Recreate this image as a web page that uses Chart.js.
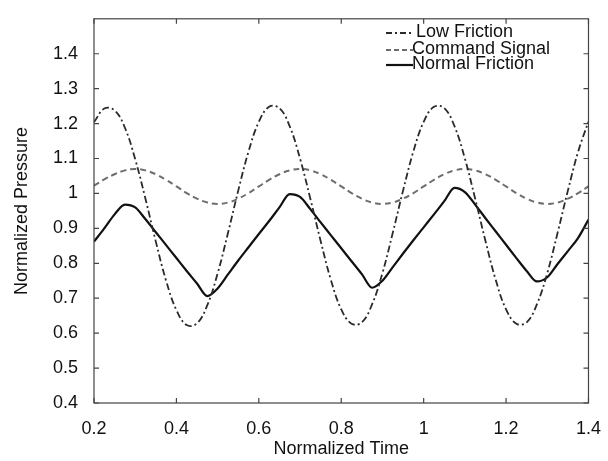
<!DOCTYPE html>
<html>
<head>
<meta charset="utf-8">
<script src="https://cdn.jsdelivr.net/npm/chart.js@4.4.1/dist/chart.umd.min.js"></script>
<style>
  html, body { margin: 0; padding: 0; background: #fff; }
  #wrap { width: 608px; height: 461px; }
</style>
</head>
<body>
<div id="wrap"><canvas id="chart"></canvas></div>
<script>
const times = [0.2,0.225,0.25,0.275,0.3,0.325,0.35,0.375,0.4,0.425,0.45,0.475,0.5,0.525,0.55,0.575,
  0.6,0.625,0.65,0.675,0.7,0.725,0.75,0.775,0.8,0.825,0.85,0.875,0.9,0.925,0.95,0.975,
  1.0,1.025,1.05,1.075,1.1,1.125,1.15,1.175,1.2,1.225,1.25,1.275,1.3,1.325,1.35,1.375,1.4];

const lowFriction = [1.204,1.243,1.238,1.188,1.098,0.984,0.862,0.750,0.666,0.623,0.628,0.680,0.771,0.886,1.008,1.120,
  1.205,1.248,1.244,1.192,1.100,0.985,0.864,0.752,0.668,0.627,0.631,0.683,0.772,0.887,1.008,1.120,
  1.205,1.248,1.244,1.192,1.100,0.985,0.864,0.752,0.668,0.627,0.631,0.683,0.772,0.887,1.008,1.120,
  1.206];

const commandSignal = [1.022,1.040,1.055,1.066,1.070,1.066,1.055,1.039,1.020,1.001,0.985,0.974,0.970,0.974,0.985,1.001,
  1.020,1.039,1.055,1.066,1.070,1.066,1.055,1.039,1.020,1.001,0.985,0.974,0.970,0.974,0.985,1.001,
  1.020,1.039,1.055,1.066,1.070,1.066,1.055,1.039,1.020,1.001,0.985,0.974,0.970,0.974,0.985,1.001,
  1.020];

const normalFriction = [0.862,0.900,0.940,0.968,0.960,0.926,0.889,0.852,0.815,0.778,0.742,0.706,0.728,0.768,0.808,0.846,
  0.884,0.921,0.960,0.998,0.990,0.955,0.917,0.880,0.843,0.806,0.769,0.730,0.750,0.789,0.828,0.866,
  0.903,0.940,0.978,1.016,1.004,0.968,0.929,0.891,0.853,0.815,0.778,0.748,0.760,0.798,0.835,0.873,
  0.925];

const seriesNames = ["Low Friction", "Command Signal", "Normal Friction"];
const xTicks = [0.2, 0.4, 0.6, 0.8, 1.0, 1.2, 1.4];
const yTicks = [0.4, 0.5, 0.6, 0.7, 0.8, 0.9, 1.0, 1.1, 1.2, 1.3, 1.4];

const FONT = "'Liberation Sans', Arial, sans-serif";
const styles = [
  { color: "#2a2a2a", width: 1.8, dash: [7, 3, 2, 3], mode: "default" },
  { color: "#6e6e6e", width: 2, dash: [6, 4], mode: "default" },
  { color: "#111111", width: 2.2, dash: [], mode: "monotone" }
];

const pts = (ys) => times.map((t, i) => ({ x: t, y: ys[i] }));
const fmt = (v) => String(Math.round(v * 10) / 10);

// frame, inward ticks and the legend inside the plot
const framePlugin = {
  id: "frame",
  afterDraw(chart) {
    const { ctx, chartArea: a, scales } = chart;
    ctx.save();
    ctx.strokeStyle = "#444";
    ctx.lineWidth = 1.2;
    ctx.setLineDash([]);
    ctx.strokeRect(a.left, a.top, a.right - a.left, a.bottom - a.top);
    ctx.beginPath();
    xTicks.forEach(v => {
      const px = scales.x.getPixelForValue(v);
      ctx.moveTo(px, a.bottom); ctx.lineTo(px, a.bottom - 5);
      ctx.moveTo(px, a.top); ctx.lineTo(px, a.top + 5);
    });
    yTicks.forEach(v => {
      const py = scales.y.getPixelForValue(v);
      ctx.moveTo(a.left, py); ctx.lineTo(a.left + 5, py);
      ctx.moveTo(a.right, py); ctx.lineTo(a.right - 5, py);
    });
    ctx.stroke();

    // legend
    const rows = [32, 49, 64];
    ctx.font = "18px " + FONT;
    ctx.textBaseline = "middle";
    ctx.fillStyle = "#111";
    seriesNames.forEach((name, i) => {
      const s = styles[i];
      ctx.beginPath();
      ctx.strokeStyle = s.color;
      ctx.lineWidth = s.width;
      ctx.setLineDash(i === 0 ? [6, 3, 2, 3] : i === 1 ? [5, 3] : []);
      ctx.moveTo(386, rows[i] + 1);
      ctx.lineTo(413, rows[i] + 1);
      ctx.stroke();
      ctx.fillText(name, i === 0 ? 416 : 412, rows[i]);
    });
    ctx.restore();
  }
};

new Chart(document.getElementById("chart"), {
  type: "line",
  data: {
    datasets: seriesNames.map((name, i) => ({
      label: name,
      data: pts([lowFriction, commandSignal, normalFriction][i]),
      borderColor: styles[i].color,
      borderWidth: styles[i].width,
      borderDash: styles[i].dash,
      pointRadius: 0,
      tension: 0.4,
      cubicInterpolationMode: styles[i].mode,
      fill: false
    }))
  },
  options: {
    responsive: true,
    maintainAspectRatio: false,
    animation: false,
    layout: { padding: { top: 7, right: 12, bottom: 0, left: 0 } },
    plugins: { legend: { display: false }, tooltip: { enabled: false } },
    scales: {
      x: {
        type: "linear",
        min: 0.2, max: 1.4,
        afterFit: (s) => { s.height = 58; },
        afterBuildTicks: (s) => { s.ticks = xTicks.map(v => ({ value: v })); },
        grid: { display: false },
        border: { display: false },
        ticks: { color: "#111", font: { family: FONT, size: 18 }, padding: 7, maxRotation: 0, callback: fmt },
        title: { display: true, text: "Normalized Time", color: "#111", font: { family: FONT, size: 18 }, padding: { top: 0, bottom: 1 } }
      },
      y: {
        min: 0.4, max: 1.5,
        afterFit: (s) => { s.width = 94; },
        afterBuildTicks: (s) => { s.ticks = yTicks.map(v => ({ value: v })); },
        grid: { display: false },
        border: { display: false },
        ticks: { color: "#111", font: { family: FONT, size: 18 }, padding: 8, callback: fmt },
        title: { display: true, text: "Normalized Pressure", color: "#111", font: { family: FONT, size: 18 }, padding: { top: 11, bottom: 0 } }
      }
    }
  },
  plugins: [framePlugin]
});
</script>
</body>
</html>
